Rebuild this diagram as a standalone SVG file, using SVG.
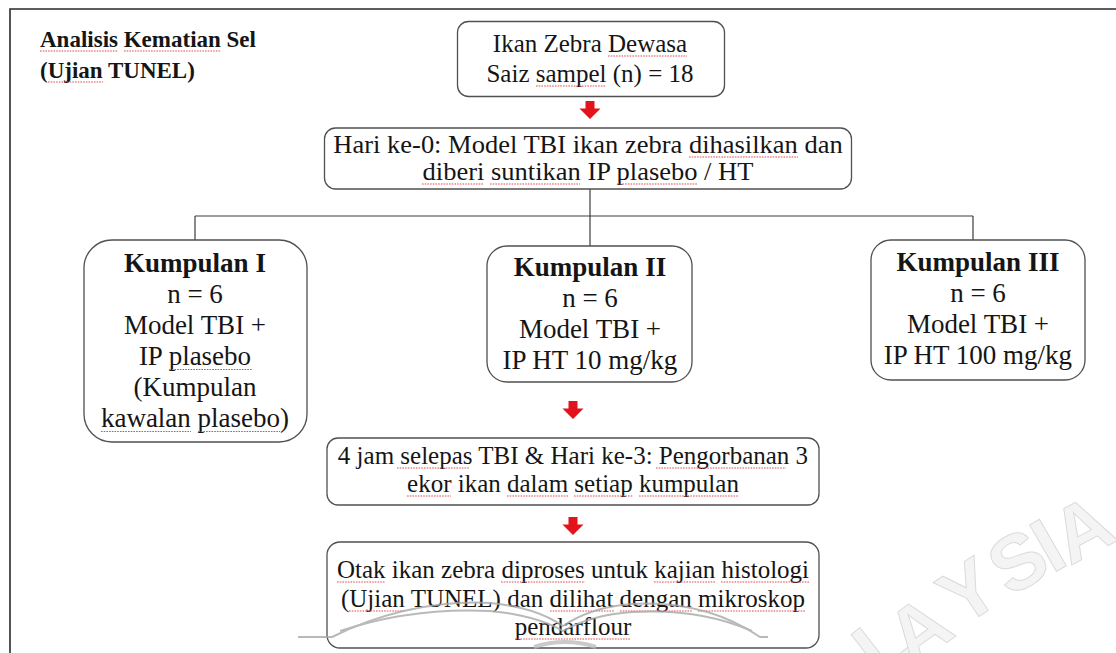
<svg xmlns="http://www.w3.org/2000/svg" width="1116" height="653" viewBox="0 0 1116 653" font-family="'Liberation Serif','Times New Roman',Times,serif">
  <defs>
    <style>
      .t{font-family:"Liberation Serif","Times New Roman",Times,serif;font-size:25px;fill:#151515;text-anchor:middle}
      .g{font-size:27px}
      .b{font-weight:bold}
      .box{fill:#fff;stroke:#505050;stroke-width:1.3}
      .conn{stroke:#3c3c3c;stroke-width:1.2;fill:none}
      .spell{fill:none;stroke:#e24c4c;stroke-width:1.1;stroke-dasharray:1.6 1.1}
      .wm{font-family:"Liberation Sans",Arial,sans-serif;font-weight:bold;font-size:78px;fill:#f2f2f2;stroke:#d2d2d2;stroke-width:1}
      .book{fill:none;stroke:#a8a8a8;stroke-width:2}
    </style>
    <path id="redArrow" d="M-4.5 0 H4.5 V7.5 H10.5 L0 18 L-10.5 7.5 H-4.5 Z" fill="#e3131b"/>
  </defs>

  <rect width="1116" height="653" fill="#fff"/>

  <!-- page frame -->
  <path d="M10 653 V9 H1116" fill="none" stroke="#2a2a2a" stroke-width="1.6"/>

  <g id="title">
    <text class="t b" style="text-anchor:start;font-size:23px" x="40" y="47">Analisis Kematian Sel</text>
    <text class="t b" style="text-anchor:start;font-size:23px" x="40" y="78">(Ujian TUNEL)</text>
    <path class="spell" d="M40 51 H118 M124 51 H221 M48 82 H103"/>
  </g>

  <!-- connectors -->
  <g id="connectors">
    <path class="conn" d="M590 189 V216 M195 216 H973 M195 216 V240 M590 216 V246 M973 216 V240"/>
    <use href="#redArrow" x="590" y="101"/>
    <use href="#redArrow" x="573" y="401"/>
    <use href="#redArrow" x="573" y="517"/>
  </g>

  <g id="node-sample">
    <rect class="box" x="457.5" y="21.5" width="267" height="75" rx="11"/>
    <text class="t" x="590" y="52">Ikan Zebra Dewasa</text>
    <text class="t" x="590" y="82">Saiz sampel (n) = 18</text>
    <path class="spell" d="M608 56 H687 M536 86 H606"/>
  </g>

  <g id="node-day0">
    <rect class="box" x="324.5" y="128" width="527" height="61" rx="11"/>
    <g transform="translate(588 0) scale(1.06 1)">
      <text class="t" x="0" y="153">Hari ke-0: Model TBI ikan zebra dihasilkan dan</text>
      <text class="t" x="0" y="180">diberi suntikan IP plasebo / HT</text>
    </g>
    <path class="spell" d="M689 157 H798 M422 184 H484 M490 184 H580 M617 184 H698"/>
  </g>

  <g id="node-group1">
    <rect class="box" x="84" y="240" width="223" height="202" rx="28"/>
    <text class="t g b" x="195" y="272">Kumpulan I</text>
    <text class="t g" x="195" y="303">n = 6</text>
    <text class="t g" x="195" y="334">Model TBI +</text>
    <text class="t g" x="195" y="365">IP plasebo</text>
    <text class="t g" x="195" y="396">(Kumpulan</text>
    <text class="t g" x="195" y="427">kawalan plasebo)</text>
    <path class="spell" d="M169 369.5 H252 M101 431.5 H191 M198 431.5 H280"/>
  </g>

  <g id="node-group2">
    <rect class="box" x="487" y="246" width="205" height="136" rx="20"/>
    <text class="t g b" x="590" y="276">Kumpulan II</text>
    <text class="t g" x="590" y="307">n = 6</text>
    <text class="t g" x="590" y="338">Model TBI +</text>
    <text class="t g" x="590" y="369">IP HT 10 mg/kg</text>
  </g>

  <g id="node-group3">
    <rect class="box" x="871" y="240" width="214" height="140" rx="20"/>
    <text class="t g b" x="978" y="271">Kumpulan III</text>
    <text class="t g" x="978" y="302">n = 6</text>
    <text class="t g" x="978" y="333">Model TBI +</text>
    <text class="t g" x="978" y="364">IP HT 100 mg/kg</text>
  </g>

  <g id="node-sacrifice">
    <rect class="box" x="327" y="438" width="492" height="67" rx="11"/>
    <text class="t" x="573" y="464">4 jam selepas TBI &amp; Hari ke-3: Pengorbanan 3</text>
    <text class="t" x="573" y="492">ekor ikan dalam setiap kumpulan</text>
    <path class="spell" d="M397 468 H469 M656 468 H786 M407 496 H451 M507 496 H568 M574 496 H633 M639 496 H739"/>
  </g>

  <g id="node-histology">
    <rect class="box" x="327" y="542" width="492" height="106" rx="13"/>
    <text class="t" x="573" y="578">Otak ikan zebra diproses untuk kajian histologi</text>
    <text class="t" x="573" y="607">(Ujian TUNEL) dan dilihat dengan mikroskop</text>
    <text class="t" x="573" y="635">pendarflour</text>
    <path class="spell" d="M337 582 H385 M501 582 H585 M654 582 H715 M721 582 H809 M349 611 H405 M550 611 H614 M620 611 H692 M698 611 H805 M515 639 H631"/>
  </g>

  <!-- faint page watermark, drawn over the content -->
  <g id="watermark" opacity="0.8">
    <path class="book" d="M298 637 H332 Q410 599 490 603 Q535 607 563 626 Q591 607 632 604 Q705 600 760 637 H768"/>
    <path class="book" d="M340 631 Q412 607 490 611 Q535 615 563 631 Q591 615 632 612 Q700 608 752 631" stroke-width="1.3" stroke="#c4c4c4"/>
    <path d="M534 647 Q565 637 596 647" fill="none" stroke="#bdbdbd" stroke-width="4"/>
    <text class="wm" transform="translate(880 680) rotate(-38)">L</text>
    <text class="wm" transform="translate(912 668) rotate(-36)">A</text>
    <text class="wm" transform="translate(962 628) rotate(-34)">Y</text>
    <text class="wm" transform="translate(1010 598) rotate(-32)">S</text>
    <text class="wm" transform="translate(1052 574) rotate(-30)">I</text>
    <text class="wm" transform="translate(1070 566) rotate(-28)">A</text>
  </g>
</svg>
